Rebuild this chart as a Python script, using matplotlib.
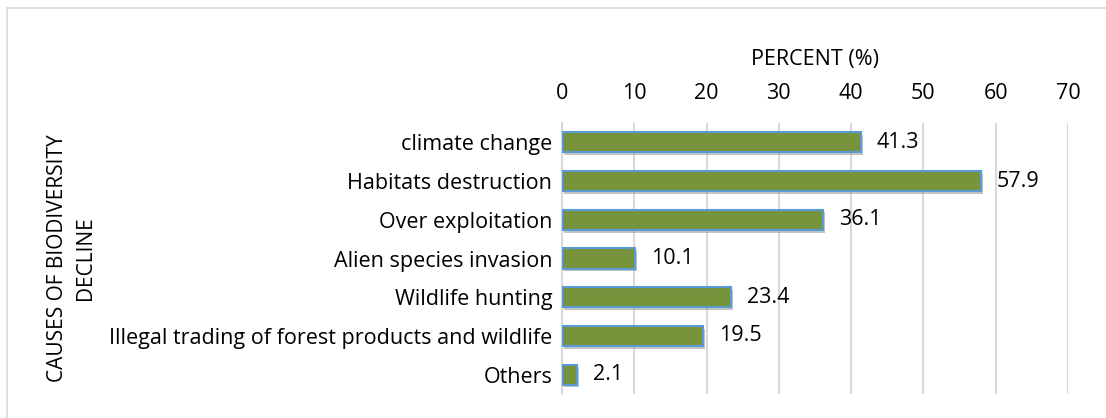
import numpy as np
import matplotlib.pyplot as plt
import matplotlib.patheffects as pe
from matplotlib.lines import Line2D

plt.rcParams['font.family'] = ['Open Sans', 'DejaVu Sans']

causes = ['climate change', 'Habitats destruction', 'Over exploitation',
          'Alien species invasion', 'Wildlife hunting',
          'Illegal trading of forest products and wildlife', 'Others']
percent = [41.3, 57.9, 36.1, 10.1, 23.4, 19.5, 2.1]
xticks = [0, 10, 20, 30, 40, 50, 60, 70]

FS = 15.5
W, H = 1106, 418
fig = plt.figure(figsize=(W / 100, H / 100), dpi=100)
ax = fig.add_axes([562 / W, 1 - 394 / H, (1068 - 562) / W, (394 - 123) / H])

y = np.arange(len(causes))
bars = ax.barh(y, percent, height=0.52, color='#77933C', edgecolor='#5B9BD5',
               linewidth=1.5, zorder=3)
for b in bars:
    b.set_path_effects([pe.SimplePatchShadow(offset=(1.5, -2), shadow_rgbFace='#808080', alpha=0.45),
                        pe.Normal()])

for yi, v in zip(y, percent):
    ax.text(v + 2.2, yi, f'{v}', va='center', ha='left', fontsize=FS, color='black')

ax.set_xlim(0, 70)
ax.set_ylim(len(causes) - 0.5, -0.5)
ax.set_xticks(xticks)
ax.set_yticks(y)
ax.set_yticklabels(causes, fontsize=FS)
ax.xaxis.tick_top()
ax.xaxis.set_label_position('top')
ax.tick_params(axis='x', length=0, pad=14, labelsize=FS)
ax.tick_params(axis='y', length=0, pad=7)
ax.grid(axis='x', color='#D9D9D9', linewidth=1.5, zorder=0)
for s in ['top', 'right', 'bottom']:
    ax.spines[s].set_visible(False)
ax.spines['left'].set_color('#D9D9D9')
ax.spines['left'].set_linewidth(1.5)

ax.set_xlabel('PERCENT (%)', fontsize=FS, labelpad=13)
ax.set_ylabel('CAUSES OF BIODIVERSITY\nDECLINE', fontsize=15, linespacing=1.45)
ax.yaxis.set_label_coords((96 - 562) / (1068 - 562), 0.5)

# outer chart border
fig.add_artist(Line2D([7 / W, 1.0], [1 - 8 / H, 1 - 8 / H], color='#D9D9D9', linewidth=1.2))
fig.add_artist(Line2D([7 / W, 7 / W], [0, 1 - 8 / H], color='#D9D9D9', linewidth=1.2))

fig.savefig('out.png', dpi=100, facecolor='white')
